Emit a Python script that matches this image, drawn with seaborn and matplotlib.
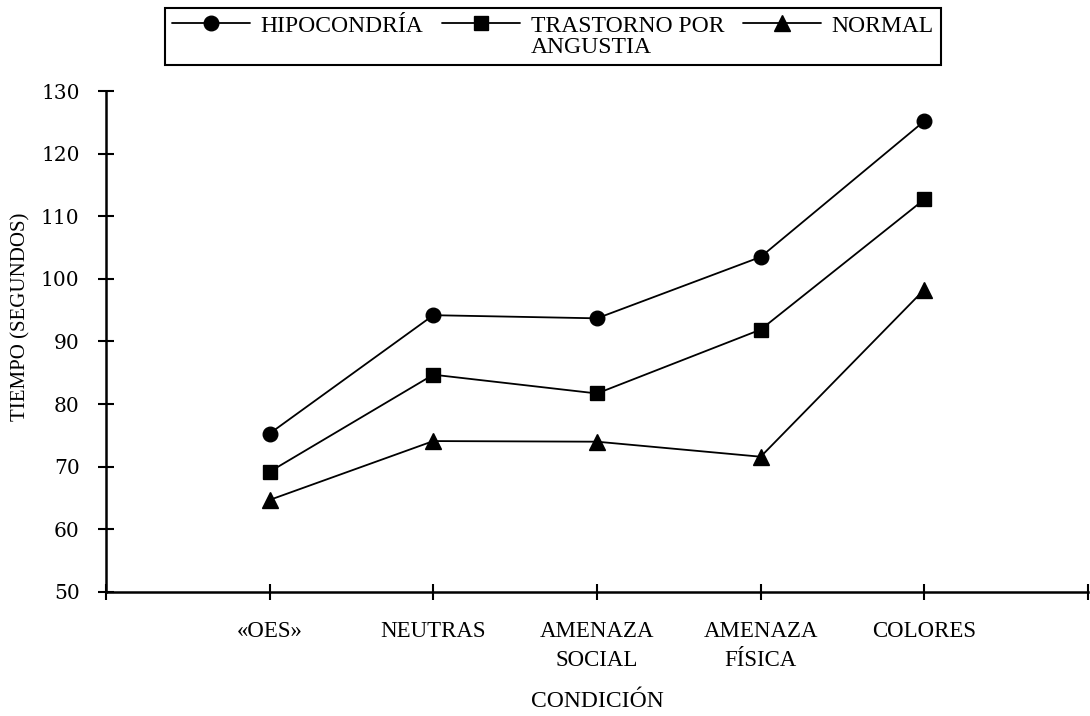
import matplotlib
matplotlib.use('Agg')
import matplotlib.pyplot as plt
from matplotlib.lines import Line2D
import pandas as pd
import seaborn as sns

# Datos
condiciones = ['«OES»', 'NEUTRAS', 'AMENAZA\nSOCIAL', 'AMENAZA\nFÍSICA', 'COLORES']
grupos = ['HIPOCONDRÍA', 'TRASTORNO POR\nANGUSTIA', 'NORMAL']
hipocondria = [75.3, 94.2, 93.7, 103.5, 125.2]
trastorno = [69.2, 84.7, 81.7, 91.9, 112.7]
normal = [64.7, 74.1, 74.0, 71.6, 98.3]
marcadores = ['o', 's', '^']

df = pd.DataFrame({
    'condicion': condiciones * 3,
    'tiempo': hipocondria + trastorno + normal,
    'grupo': [g for g in grupos for _ in condiciones],
})

sns.set_style('ticks')
plt.rcParams['text.color'] = 'black'
fig = plt.figure(figsize=(10.9, 7.16), dpi=100)
ax = fig.add_axes([0.0972, 0.1732, 0.901, 0.6997])

sns.pointplot(data=df, x='condicion', y='tiempo', hue='grupo',
              order=condiciones, hue_order=grupos, palette=['black'] * 3,
              markers=marcadores, linestyles='-', errorbar=None,
              markersize=10, linewidth=1.3, legend=False, ax=ax)

tamanos = [10.5, 9.5, 12]
for linea, t in zip(ax.lines[:3], tamanos):
    linea.set_markersize(t)

# Ejes
ax.set_xlim(-1, 5)
ax.set_ylim(50, 130)
ax.set_xticks(range(-1, 6))
ax.set_xticklabels([''] + condiciones + [''], family='Liberation Serif', fontsize=16.5)
for lbl in ax.get_xticklabels():
    lbl.set_linespacing(1.5)
ax.set_yticks(range(50, 131, 10))
ax.set_yticklabels([str(v) for v in range(50, 131, 10)], family='DejaVu Serif', fontsize=14.5)

ax.tick_params(axis='x', direction='inout', length=12, width=1.5, pad=15,
               color='black', labelcolor='black')
ax.tick_params(axis='y', direction='inout', length=12, width=1.5, pad=13,
               color='black', labelcolor='black')

sns.despine(ax=ax)
for s in ['left', 'bottom']:
    ax.spines[s].set_linewidth(1.8)
    ax.spines[s].set_color('black')

ax.set_ylabel('TIEMPO (SEGUNDOS)', family='Liberation Serif', fontsize=15, color='black')
ax.yaxis.set_label_coords(-0.077, 0.55)
ax.set_xlabel('CONDICIÓN', family='Liberation Serif', fontsize=17, color='black')
ax.xaxis.set_label_coords(0.5, -0.197)

# Leyenda: la segunda línea de "TRASTORNO POR" va en una fila aparte con mango invisible
vacio = Line2D([], [], color='none')
titulos = grupos[1].split('\n')
manejos = [ax.lines[0], vacio, ax.lines[1], vacio, ax.lines[2], vacio]
etiquetas = [grupos[0], '', titulos[0], titulos[1], grupos[2], '']
leg = fig.legend(manejos, etiquetas, loc='upper left', bbox_to_anchor=(165 / 1090, 1 - 8 / 716),
                 ncol=3, frameon=True, fancybox=False, edgecolor='black', framealpha=1,
                 prop={'family': 'Liberation Serif', 'size': 17}, handlelength=3.3,
                 handletextpad=0.45, columnspacing=0.8, borderpad=0.3, numpoints=1,
                 borderaxespad=0, labelspacing=0.0)
leg.get_frame().set_linewidth(1.5)
for t in leg.get_texts():
    t.set_color('black')

fig.savefig('out.png', dpi=100)
plt.close(fig)
